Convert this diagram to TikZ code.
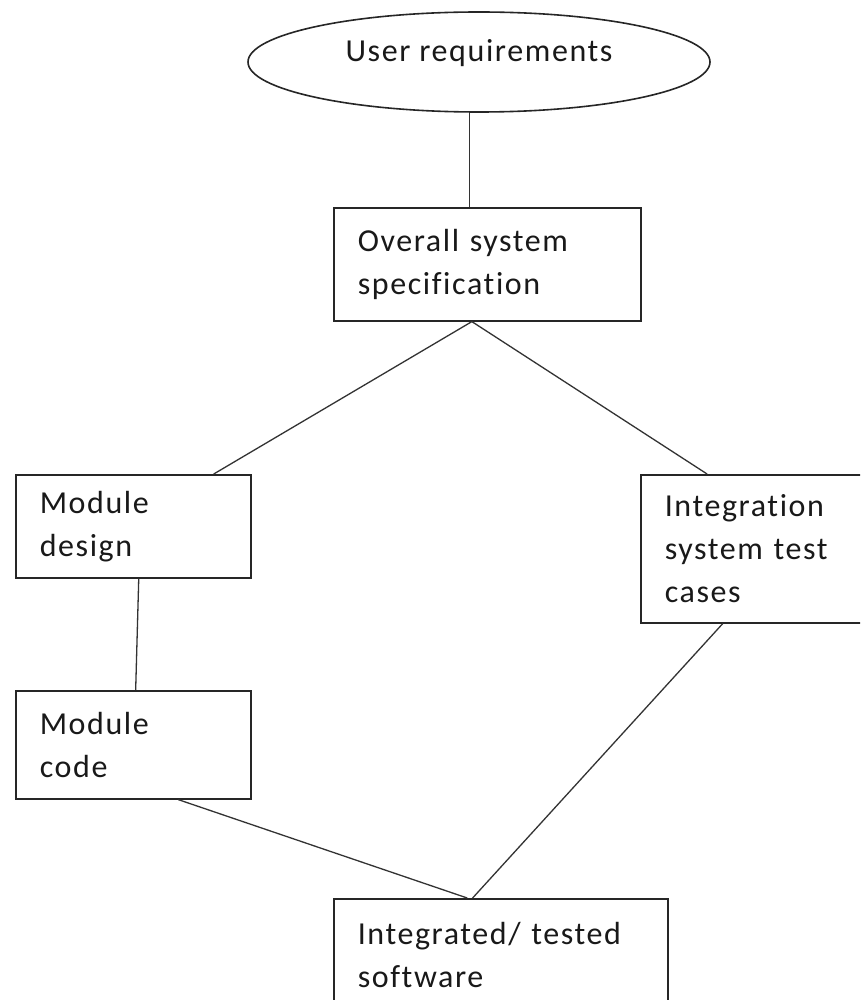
\documentclass[tikz,border=0pt]{standalone}
\usepackage{fontspec}
\setmainfont{Carlito}[LetterSpace=5,Ligatures={NoCommon,NoDiscretionary,NoRare}]
\usetikzlibrary{shapes.geometric,calc}
\tikzset{box node/.style={rectangle,draw=black!85,line width=1.6pt,anchor=north west,inner xsep=24pt,inner ysep=0pt,align=left,font=\fontsize{32}{43}\selectfont,text=black!90},
         oval node/.style={ellipse,draw=black!85,line width=1.6pt,minimum width=462pt,minimum height=100pt,inner sep=0pt,font=\fontsize{32}{43}\selectfont,text=black!90,text height=22pt,text depth=22pt},
         link/.style={draw=black!80,line width=1.3pt},
}

\begin{document}
\begin{tikzpicture}[x=1pt,y=-1pt]
\clip (0,0) rectangle (860,1000);
\fill[white] (0,0) rectangle (860,1000);
% nodes
\node[oval node] (1) at (479,62) {User requirements};
\node[box node,text width=259pt,minimum height=113pt] (2) at (333,207) {Overall~system\\specification};
\node[box node,text width=187pt,minimum height=103pt] (3) at (15,474) {Module\\design};
\node[box node,text width=174pt,minimum height=148pt] (4) at (640,474) {Integration\\system~test\\cases};
\node[box node,text width=187pt,minimum height=108pt] (5) at (15,690) {Module\\code};
\node[box node,text width=286pt,minimum height=112pt] (6) at (333,898) {Integrated/~tested\\software};
% links
\coordinate (2top) at ($(2.north west)!0.443!(2.north east)$);
\coordinate (2bot) at ($(2.south west)!0.45!(2.south east)$);
\draw[link] (2top |- 1.south) -- (2top);
\draw[link] (2bot) -- ($(3.north west)!0.84!(3.north east)$);
\draw[link] (2bot) -- ($(4.north west)!0.30!(4.north east)$);
\draw[link] ($(3.south west)!0.523!(3.south east)$) -- ($(5.north west)!0.51!(5.north east)$);
\draw[link] ($(5.south west)!0.69!(5.south east)$) -- ($(6.north west)!0.40!(6.north east)$);
\draw[link] ($(4.south west)!0.37!(4.south east)$) -- ($(6.north west)!0.416!(6.north east)$);
\end{tikzpicture}
\end{document}
